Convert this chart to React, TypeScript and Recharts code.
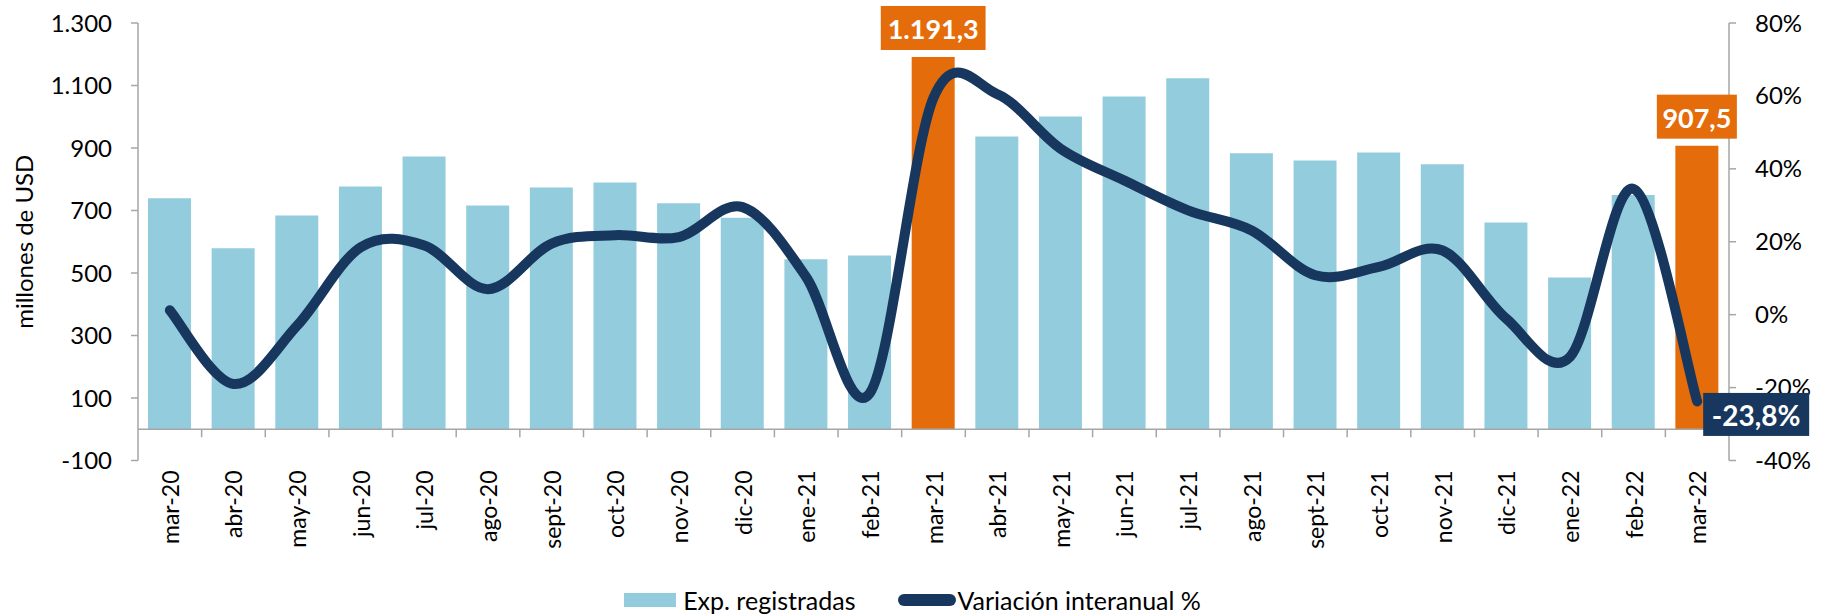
import React from "react";
import {
  ComposedChart,
  Bar,
  Line,
  XAxis,
  YAxis,
  Cell,
  LabelList,
  ReferenceLine,
  Legend,
} from "recharts";

const meses = [
  "mar-20", "abr-20", "may-20", "jun-20", "jul-20", "ago-20", "sept-20", "oct-20", "nov-20", "dic-20",
  "ene-21", "feb-21", "mar-21", "abr-21", "may-21", "jun-21", "jul-21", "ago-21", "sept-21", "oct-21",
  "nov-21", "dic-21", "ene-22", "feb-22", "mar-22",
];

// millones de USD
const exportaciones = [
  739, 579, 684, 777, 873, 716, 774, 790, 723, 677,
  544, 556, 1191.3, 937, 1001, 1065, 1123, 883, 860, 886,
  848, 662, 486, 750, 907.5,
];

// variación interanual, %
const variacion = [
  1.2, -19, -3, 18.5, 19, 7, 19.5, 21.8, 21.3, 29.5,
  10.3, -21.5, 59.5, 60.5, 45.5, 36.8, 28.6, 23.1, 10.8, 13.1,
  17.6, -1.1, -11.6, 34.5, -23.8,
];

const destacados = ["mar-21", "mar-22"];
const ticksUsd = [-100, 100, 300, 500, 700, 900, 1100, 1300];
const ticksPct = [-40, -20, 0, 20, 40, 60, 80];

const AZUL_CLARO = "#93cddd";
const NARANJA = "#e46c0a";
const AZUL = "#17375e";
const GRIS = "#a6a6a6";
const FUENTE = "Lato, 'Noto Sans', sans-serif";

const datos = meses.map((mes, i) => ({
  mes,
  exp: exportaciones[i],
  variacion: variacion[i],
}));

function miles(n: number, dec = 0) {
  const [ent, frac] = Math.abs(n).toFixed(dec).split(".");
  const conPuntos = ent.replace(/\B(?=(\d{3})+(?!\d))/g, ".");
  return (n < 0 ? "-" : "") + conPuntos + (frac ? "," + frac : "");
}

// suavizado tipo Excel (catmull-rom pasado a bezier)
function curvaExcel(context: any) {
  let pts: number[][] = [];
  return {
    areaStart() {},
    areaEnd() {},
    lineStart() {
      pts = [];
    },
    point(x: number, y: number) {
      pts.push([+x, +y]);
    },
    lineEnd() {
      const n = pts.length;
      if (!n) return;
      context.moveTo(pts[0][0], pts[0][1]);
      for (let i = 0; i < n - 1; i++) {
        const p0 = pts[Math.max(0, i - 1)];
        const p1 = pts[i];
        const p2 = pts[i + 1];
        const p3 = pts[Math.min(n - 1, i + 2)];
        context.bezierCurveTo(
          p1[0] + (p2[0] - p0[0]) / 6,
          p1[1] + (p2[1] - p0[1]) / 6,
          p2[0] - (p3[0] - p1[0]) / 6,
          p2[1] - (p3[1] - p1[1]) / 6,
          p2[0],
          p2[1]
        );
      }
    },
  };
}

function TickMes({ x, y, payload }: any) {
  return (
    <text
      x={x}
      y={y}
      transform={`rotate(-90, ${x}, ${y})`}
      textAnchor="end"
      dominantBaseline="central"
      fontSize={23}
      fontFamily={FUENTE}
      fill="#000"
    >
      {payload.value}
    </text>
  );
}

function EjeCero(props: any) {
  const { x1, y1, x2 } = props;
  const paso = (x2 - x1) / meses.length;
  return (
    <g>
      <line x1={x1} y1={y1} x2={x2} y2={y1} stroke={GRIS} strokeWidth={1.5} />
      {meses.slice(1).map((m, i) => (
        <line
          key={m}
          x1={x1 + paso * (i + 1)}
          x2={x1 + paso * (i + 1)}
          y1={y1}
          y2={y1 + 8}
          stroke={GRIS}
          strokeWidth={1.5}
        />
      ))}
    </g>
  );
}

function EtiquetaBarra(props: any) {
  const vb = props.viewBox ?? props;
  const i = props.index ?? exportaciones.indexOf(props.value);
  if (!destacados.includes(meses[i])) return null;
  const texto = miles(exportaciones[i], 1);
  const w = texto.length * 12.4 + 18;
  const h = 44;
  const cx = vb.x + vb.width / 2;
  const top = vb.y - 7 - h;
  return (
    <g>
      <rect x={cx - w / 2} y={top} width={w} height={h} fill={NARANJA} />
      <text
        x={cx}
        y={top + h / 2 + 1}
        textAnchor="middle"
        dominantBaseline="central"
        fill="#fff"
        fontWeight={700}
        fontSize={27}
        fontFamily={FUENTE}
      >
        {texto}
      </text>
    </g>
  );
}

function EtiquetaLinea(props: any) {
  const vb = props.viewBox ?? props;
  const i = props.index ?? variacion.lastIndexOf(props.value);
  if (i !== meses.length - 1) return null;
  const texto = miles(variacion[i], 1) + "%";
  const w = 106;
  const h = 43;
  const left = vb.x + 6;
  const top = vb.y - 8.5;
  return (
    <g>
      <rect x={left} y={top} width={w} height={h} fill={AZUL} />
      <text
        x={left + w / 2}
        y={top + h / 2 + 1}
        textAnchor="middle"
        dominantBaseline="central"
        fill="#fff"
        fontWeight={700}
        fontSize={28}
        fontFamily={FUENTE}
      >
        {texto}
      </text>
    </g>
  );
}

function TituloEje({ viewBox }: any) {
  const x = viewBox.x + 23;
  const y = viewBox.y + viewBox.height / 2;
  return (
    <text
      x={x}
      y={y}
      transform={`rotate(-90, ${x}, ${y})`}
      textAnchor="middle"
      dominantBaseline="central"
      fontSize={24}
      fontFamily={FUENTE}
      fill="#000"
    >
      millones de USD
    </text>
  );
}

function Leyenda() {
  return (
    <div
      style={{
        height: 32,
        display: "flex",
        justifyContent: "center",
        alignItems: "center",
        fontFamily: FUENTE,
        fontSize: 25,
        color: "#000",
        whiteSpace: "nowrap",
      }}
    >
      <span style={{ width: 52, height: 14, background: AZUL_CLARO, marginRight: 7 }} />
      <span>Exp. registradas</span>
      <span
        style={{
          width: 58,
          height: 12,
          borderRadius: 6,
          background: AZUL,
          marginLeft: 42,
          marginRight: 2,
        }}
      />
      <span>Variación interanual %</span>
    </div>
  );
}

export default function App() {
  const tickStyle = { fontSize: 24, fill: "#000", fontFamily: FUENTE };
  return (
    <div style={{ position: "absolute", left: 0, top: 0, background: "#fff" }}>
      <ComposedChart
        width={1825}
        height={616}
        data={datos}
        margin={{ top: 23, right: 0, bottom: 0, left: 0 }}
      >
        <XAxis
          dataKey="mes"
          interval={0}
          height={123.5}
          axisLine={false}
          tickLine={false}
          tickSize={0}
          tickMargin={10}
          tick={<TickMes />}
        />
        <YAxis
          yAxisId="usd"
          width={138}
          domain={[-100, 1300]}
          ticks={ticksUsd}
          interval={0}
          tickFormatter={(v: number) => miles(v)}
          tick={tickStyle}
          tickSize={7}
          tickMargin={19}
          axisLine={{ stroke: GRIS, strokeWidth: 1.5 }}
          tickLine={{ stroke: GRIS, strokeWidth: 1.5 }}
          label={<TituloEje />}
        />
        <YAxis
          yAxisId="pct"
          orientation="right"
          width={96}
          domain={[-40, 80]}
          ticks={ticksPct}
          interval={0}
          tickFormatter={(v: number) => `${v}%`}
          tick={tickStyle}
          tickSize={7}
          tickMargin={19}
          axisLine={{ stroke: GRIS, strokeWidth: 1.5 }}
          tickLine={{ stroke: GRIS, strokeWidth: 1.5 }}
        />
        <Legend
          verticalAlign="bottom"
          align="center"
          wrapperStyle={{ left: 0, width: 1825, bottom: 0 }}
          content={() => <Leyenda />}
        />
        <Bar yAxisId="usd" dataKey="exp" barSize={43} isAnimationActive={false}>
          {datos.map((d) => (
            <Cell key={d.mes} fill={destacados.includes(d.mes) ? NARANJA : AZUL_CLARO} />
          ))}
          <LabelList dataKey="exp" content={<EtiquetaBarra />} />
        </Bar>
        <ReferenceLine yAxisId="usd" y={0} shape={<EjeCero />} />
        <Line
          yAxisId="pct"
          dataKey="variacion"
          type={curvaExcel as any}
          stroke={AZUL}
          strokeWidth={10}
          strokeLinecap="round"
          dot={false}
          activeDot={false}
          isAnimationActive={false}
        >
          <LabelList dataKey="variacion" content={<EtiquetaLinea />} />
        </Line>
      </ComposedChart>
    </div>
  );
}
